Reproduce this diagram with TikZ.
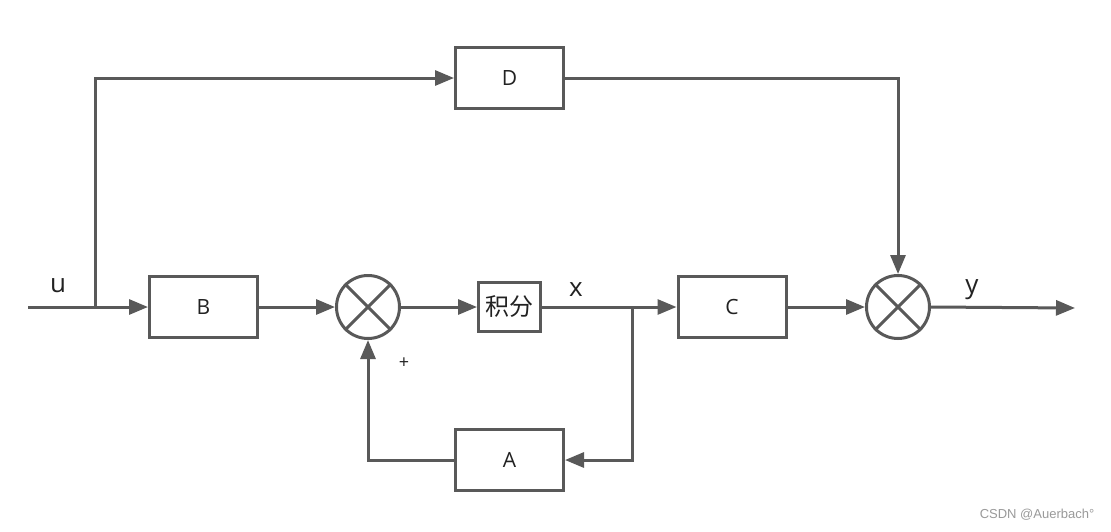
\documentclass[tikz,border=0pt]{standalone}
\usepackage{fontspec}
\setmainfont{Open Sans}
\newfontfamily\cjk{Noto Sans CJK SC}
\newfontfamily\wmfont{Liberation Sans}
\usetikzlibrary{arrows.meta}
\definecolor{lc}{HTML}{595959}
\definecolor{tc}{HTML}{222222}
\definecolor{wm}{HTML}{9A9A9A}
\begin{document}
\begin{tikzpicture}[x=1pt,y=-1pt,
  line/.style={draw=lc, line width=3pt},
  arr/.style={line, -{Triangle[length=19pt,width=15pt]}},
  blk/.style={draw=lc, line width=3pt, fill=white, minimum width=108pt, minimum height=61pt, inner sep=0pt, font=\fontsize{21}{25}\selectfont, text=tc},
  sumj/.style={circle, draw=lc, line width=3pt, minimum size=63pt, inner sep=0pt},
  lbl/.style={font=\fontsize{26}{30}\selectfont, text=tc, inner sep=0pt}]
\useasboundingbox[fill=white] (0,0) rectangle (1111,531);

\node[blk] (D) at (509.5,78) {D};
\node[blk] (B) at (203.5,307) {B};
\node[blk] (C) at (732,307) {C};
\node[blk] (A) at (509.5,460) {A};
\node[blk, minimum width=62pt, minimum height=49pt, font=\cjk\fontsize{24}{28}\selectfont] (I) at (509.5,307) {积分};
\node[sumj] (s1) at (368,307) {};
\node[sumj] (s2) at (898,307) {};
\foreach \s in {s1,s2}{
  \draw[line] (\s.north west) -- (\s.south east);
  \draw[line] (\s.north east) -- (\s.south west);
}

\coordinate (in) at (28,307);
\coordinate (j1) at (95,307);
\coordinate (j2) at (632,307);
\coordinate (out) at (1075,308);

\draw[line] (in) -- (j1);
\draw[arr] (j1) -- (B.west);
\draw[arr] (j1) |- (D.west);
\draw[arr] (D.east) -| (s2.north);
\draw[arr] (B.east) -- (s1.west);
\draw[arr] (s1.east) -- (I.west);
\draw[line] (I.east) -- (j2);
\draw[arr] (j2) -- (C.west);
\draw[arr] (j2) |- (A.east);
\draw[arr] (A.west) -| (s1.south);
\draw[arr] (C.east) -- (s2.west);
\draw[arr] (s2.east) -- (out);

\node[lbl] (lu) at (58,286) {u};
\node[lbl] (lx) at (576,290) {x};
\node[lbl] (ly) at (972,290) {y};
\node[font=\fontsize{18}{20}\selectfont, text=tc, inner sep=0pt] (lp) at (404,363) {+};
\node[font=\wmfont\fontsize{13}{15}\selectfont, text=wm, inner sep=0pt] (wmk) at (1037,515) {CSDN @Auerbach°};
\end{tikzpicture}
\end{document}
